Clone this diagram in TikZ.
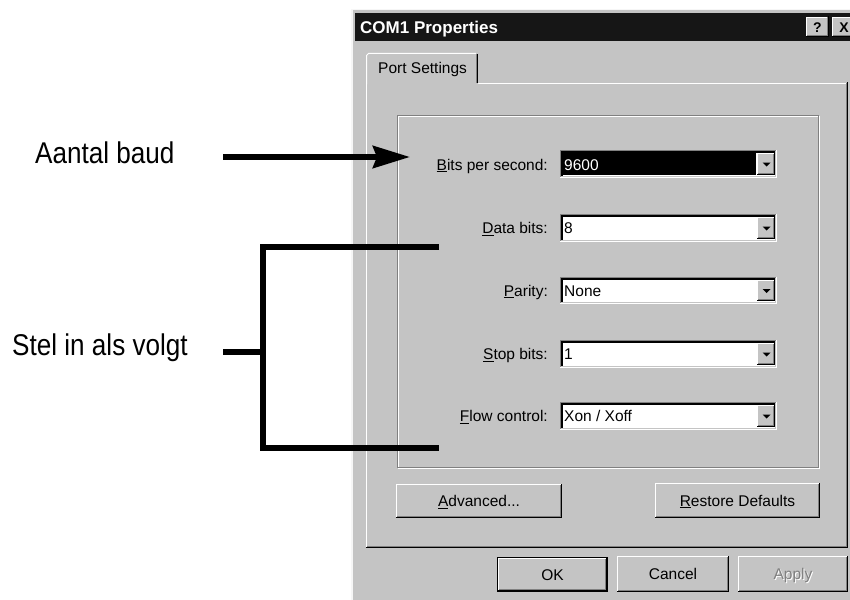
\documentclass[tikz,border=0pt]{standalone}
\usepackage{fontspec}
\setmainfont{Liberation Sans}
\usepackage{graphicx}
\usetikzlibrary{arrows.meta}
\definecolor{dlg}{RGB}{196,196,196}
\definecolor{shadowgray}{RGB}{128,128,128}
\definecolor{titlebg}{RGB}{22,22,22}
\newcommand{\uif}{\fontsize{15.5}{18}\selectfont}
\newcommand{\bigf}{\fontsize{30}{36}\selectfont}
\newcommand{\ttlf}{\fontsize{17}{20}\selectfont\bfseries}
% raised 3D box: x0 y0 x1 y1
\newcommand{\winraised}[4]{%
  \fill[dlg] (#1,#2) rectangle (#3,#4);
  \draw[bdr,white] (#1+0.5,#4-1) -- (#1+0.5,#2+0.5) -- (#3-1,#2+0.5);
  \draw[bdr,black] (#1,#4-0.5) -- (#3-0.5,#4-0.5) -- (#3-0.5,#2);
  \draw[bdr,shadowgray] (#1+1,#4-1.5) -- (#3-1.5,#4-1.5) -- (#3-1.5,#2+1);
}
% sunken 3D field
\newcommand{\winsunken}[4]{%
  \fill[white] (#1,#2) rectangle (#3,#4);
  \draw[bdr,shadowgray] (#1+0.5,#4-1) -- (#1+0.5,#2+0.5) -- (#3-1,#2+0.5);
  \draw[bdr,black,line width=1.6pt] (#1+1.8,#4-2) -- (#1+1.8,#2+1.8) -- (#3-2,#2+1.8);
  \draw[bdr,white] (#1,#4-0.5) -- (#3-0.5,#4-0.5) -- (#3-0.5,#2);
  \draw[bdr,dlg] (#1+1,#4-1.5) -- (#3-1.5,#4-1.5) -- (#3-1.5,#2+1);
}
% combo box: top y, bottom y
\newcommand{\wincombo}[2]{%
  \winsunken{560}{#1}{777}{#2}
  \winraised{757}{#1+3}{775}{#2-3}
  \fill[black] (762.5,#1/2+#2/2-1.5) -- (770.5,#1/2+#2/2-1.5) -- (766.5,#1/2+#2/2+2.5) -- cycle;
}
\begin{document}
\begin{tikzpicture}[x=1pt,y=-1pt,
  bdr/.style={line width=1pt,line cap=rect},
  ann/.style={line width=6pt,black},
  lbl/.style={anchor=base east,inner sep=0pt,font=\uif},
  val/.style={anchor=base west,inner sep=0pt,font=\uif},
  btntext/.style={anchor=base,inner sep=0pt,font=\uif},
  bigtext/.style={anchor=base west,inner sep=0pt,font=\bigf},
]
\useasboundingbox (0,0) rectangle (850,599);
\fill[white] (0,0) rectangle (850,599);
\begin{scope}
\clip (0,0) rectangle (850,599);
% dialog frame
\fill[dlg] (351,9) rectangle (870,620);
\draw[line width=1.2pt,white!85!dlg] (352,620) -- (352,9.6) -- (870,9.6);
% title bar
\fill[titlebg] (355,13) rectangle (870,41);
\node[anchor=base west,inner sep=0pt,font=\ttlf,text=white] (title) at (360,34) {COM1 Properties};
\winraised{806}{17}{829}{37}
\node[anchor=base,inner sep=0pt,font=\fontsize{14}{16}\selectfont\bfseries] (help) at (817.5,33) {?};
\winraised{832}{17}{856}{37}
\node[anchor=base,inner sep=0pt,font=\fontsize{14}{16}\selectfont\bfseries] (close) at (844,33) {X};
% tab page panel
\fill[dlg] (366,83) rectangle (848,547);
\draw[bdr,white] (366.5,546) -- (366.5,83.5) -- (846,83.5);
\draw[bdr,black] (366,547) -- (847.5,547) -- (847.5,83);
\draw[bdr,shadowgray] (367,546) -- (846.5,546) -- (846.5,84);
% tab
\fill[dlg] (366,84) -- (366,55) -- (368,53) -- (476,53) -- (478,55) -- (478,84) -- cycle;
\draw[bdr,white] (366.5,84) -- (366.5,55.5) -- (368.5,53.5) -- (475.5,53.5);
\draw[bdr,black] (477.5,55) -- (477.5,83);
\draw[bdr,shadowgray] (476.5,55) -- (476.5,83);
\node[anchor=base west,inner sep=0pt,font=\uif] (tab) at (378,73.5) {Port Settings};
% group box (etched)
\draw[bdr,white] (398.5,116.5) rectangle (819.5,468.5);
\draw[bdr,shadowgray] (397.5,115.5) rectangle (818.5,467.5);
% rows
\node[lbl] (l1) at (548,170) {\underline{B}its per second:};
\wincombo{150}{178}
\fill[black] (563,153) rectangle (756,175);
\node[val,text=white] (v1) at (564,170) {9600};
\node[lbl] (l2) at (548,233.5) {\underline{D}ata bits:};
\wincombo{214}{242}
\node[val] (v2) at (564,233.5) {8};
\node[lbl] (l3) at (548,296) {\underline{P}arity:};
\wincombo{277}{304}
\node[val] (v3) at (564,296) {None};
\node[lbl] (l4) at (548,359.5) {\underline{S}top bits:};
\wincombo{340}{368}
\node[val] (v4) at (564,359.5) {1};
\node[lbl] (l5) at (548,421.5) {\underline{F}low control:};
\wincombo{402}{430}
\node[val] (v5) at (564,421.5) {Xon / Xoff};
% buttons
\winraised{396}{484}{562}{518}
\node[btntext] (adv) at (479,506.5) {\underline{A}dvanced...};
\winraised{655}{483}{820}{518}
\node[btntext] (rest) at (737.5,506) {\underline{R}estore Defaults};
\fill[black] (497,557) rectangle (608,592);
\winraised{498}{558}{607}{591}
\node[btntext] (ok) at (552.5,580) {OK};
\winraised{617}{556}{729}{592}
\node[btntext] (cancel) at (673,579.5) {Cancel};
\winraised{738}{556}{848}{592}
\node[btntext,text=white] (applyshadow) at (794,580.5) {Apply};
\node[btntext,text=shadowgray] (apply) at (793,579.5) {Apply};
\end{scope}
% annotations
\node[bigtext] (baud) at (35,163.5) {\scalebox{0.87}[1]{Aantal baud}};
\node[bigtext] (stel) at (12,355) {\scalebox{0.87}[1]{Stel in als volgt}};
\coordinate (arrS) at (223,157);
\coordinate (arrT) at (410,157);
\draw[ann,-{Stealth[length=37pt,width=22pt,inset=4pt]}] (arrS) -- (arrT);
\coordinate (brT) at (439,247);
\coordinate (brTL) at (263,247);
\coordinate (brBL) at (263,448);
\coordinate (brB) at (439,448);
\coordinate (brM) at (263,352);
\coordinate (stub) at (223,352);
\draw[ann,line join=miter] (brT) -- (brTL) -- (brBL) -- (brB);
\draw[ann] (stub) -- (brM);
\end{tikzpicture}
\end{document}
